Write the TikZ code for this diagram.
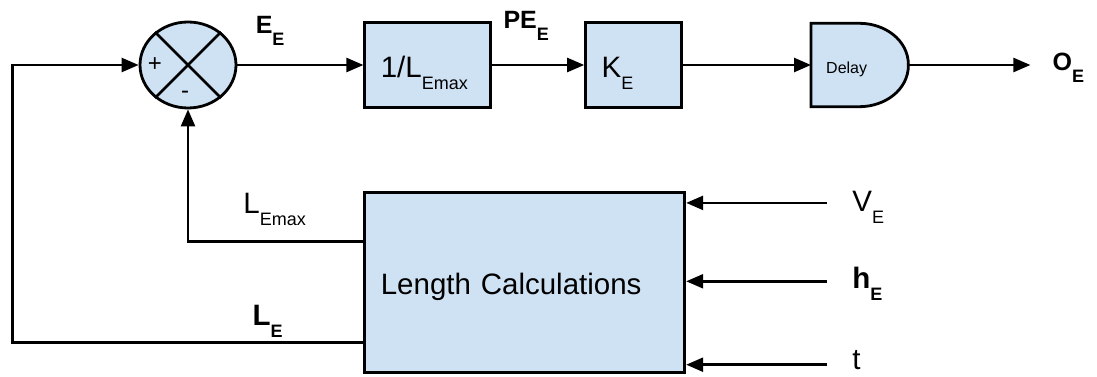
\documentclass[tikz,border=0pt]{standalone}
\usepackage{fontspec}
\setmainfont{Liberation Sans}
\usepackage{xcolor}
\usepackage{tikz}
\usetikzlibrary{arrows.meta, positioning, shapes.geometric}
\definecolor{boxblue}{HTML}{CFE2F3}
\newcommand{\lowsub}[1]{\raisebox{-12pt}{\fontsize{18}{18}\selectfont #1}}

\begin{document}
\begin{tikzpicture}[
    x=1pt, y=-1pt,
    font=\fontsize{29.5}{32}\selectfont,
    outline/.style={draw, line width=2.8pt, fill=boxblue},
    block/.style={outline, minimum height=85pt, inner xsep=16pt, align=left,
                  text height=32pt, text depth=7pt},
    summer/.style={outline, ellipse, minimum width=96pt, minimum height=86pt},
    tag/.style={anchor=base, inner sep=0pt},
    inlbl/.style={anchor=base west, inner sep=0pt},
    wire/.style={line width=2.5pt},
    arr/.style={wire, -{Triangle[length=17pt, width=14pt]}}
  ]
  \useasboundingbox (0,0) rectangle (1097,377);

  \node[summer] (sum) at (188,65) {};
  \draw[wire] (sum.45) -- (sum.225) (sum.135) -- (sum.315);
  \node[inner sep=0pt, font=\fontsize{24}{24}\selectfont] (plus) at ([xshift=-33pt]sum.center) {+};
  \node[inner sep=0pt, font=\fontsize{24}{24}\selectfont] (minus) at ([xshift=-3pt, yshift=-30pt]sum.center) {-};

  \node[block, text width=94pt, right=126pt of sum] (inv) {1/L\lowsub{Emax}};
  \node[block, text width=64pt, right=92pt of inv] (gain) {K\lowsub{E}};
  \node[minimum width=97pt, minimum height=83pt, right=128pt of gain] (delay) {};
  \draw[outline] (delay.north west) -- ([xshift=-49pt]delay.north east)
    to[out=0, in=90] (delay.east) to[out=-90, in=0] ([xshift=-49pt]delay.south east)
    -- (delay.south west) -- cycle;
  \node[inlbl, font=\fontsize{16}{18}\selectfont] (delaytxt) at ([xshift=15pt, yshift=-9pt]delay.west) {Delay};
  \node[right=122pt of delay, inner xsep=22pt, inner ysep=0pt, text height=18pt, text depth=6pt,
        font=\fontsize{25}{28}\selectfont\bfseries] (oe) {O\lowsub{E}};

  \node[block, minimum height=180pt, text width=288pt,
        below=82pt of inv.south west, anchor=north west] (calc) {Length Calculations};

  \draw[arr] (sum) -- node[tag, pos=0.26, yshift=31pt] (ee)
    {\fontsize{25}{28}\selectfont\bfseries E\lowsub{E}} (inv);
  \draw[arr] (inv) -- node[tag, pos=0.37, yshift=36pt] (pe)
    {\fontsize{25}{28}\selectfont\bfseries PE\lowsub{E}} (gain);
  \draw[arr] (gain) -- (delay);
  \draw[arr] (delay) -- (oe);

  \draw[arr] ([yshift=41pt]calc.west) -| node[tag, pos=0.253, yshift=28pt] (lemax)
    {L\lowsub{Emax}} (sum.south);
  \draw[arr] ([yshift=-60pt]calc.west) -- node[tag, pos=0.273, yshift=17pt] (le)
    {\bfseries L\lowsub{E}} ++(-351,0) |- (sum.west);

  \coordinate (vin) at ([xshift=141pt, yshift=-12pt]calc.north east);
  \coordinate (hin) at ([xshift=141pt, yshift=1pt]calc.east);
  \coordinate (tin) at ([xshift=141pt, yshift=9pt]calc.south east);
  \draw[arr] (vin) -- (vin -| calc.east);
  \draw[arr] (hin) -- (hin -| calc.east);
  \draw[arr] (tin) -- (tin -| calc.east);
  \node[inlbl] (ve) at ([xshift=25pt, yshift=-9pt]vin) {V\lowsub{E}};
  \node[inlbl] (he) at ([xshift=25pt, yshift=-7pt]hin) {\bfseries h\lowsub{E}};
  \node[inlbl] (te) at ([xshift=25pt, yshift=-5pt]tin) {t};
\end{tikzpicture}
\end{document}
